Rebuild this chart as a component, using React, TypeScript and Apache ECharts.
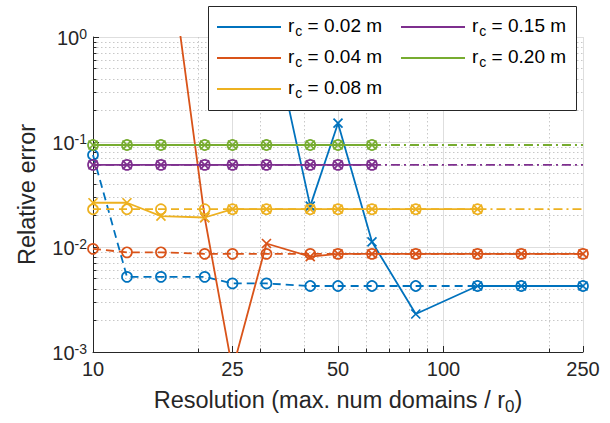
import React, { useEffect, useRef } from "react";
import * as echarts from "echarts";

// Resolution (max. num domains / r0) at which each error was computed
const resolution = [10, 12.5, 15.625, 20.833, 25, 31.25, 41.667, 50, 62.5, 83.333, 125, 166.667, 250];

// Relative errors, solid lines with "x" markers
const solid002 = [null, null, null, null, null, 2.0, 0.0245, 0.151, 0.0112, 0.0023, 0.00425, 0.00425, 0.00425];
const solid004 = [null, null, 25, 0.019, 0.00068, 0.0108, 0.0081, 0.0086, 0.0086, 0.0086, 0.0086, 0.0086, 0.0086];
const solid008 = [0.0264, 0.0264, 0.0197, 0.0191, 0.0229, 0.0229, 0.0229, 0.0229, 0.0229, 0.0229, 0.0229, null, null];
const solid015 = [0.0606, 0.0606, 0.0606, 0.0606, 0.0606, 0.0606, 0.0606, 0.0606, 0.0606, null, null, null, null];
const solid020 = [0.0936, 0.0936, 0.0936, 0.0936, 0.0936, 0.0936, 0.0936, 0.0936, 0.0936, null, null, null, null];

// Relative errors, dashed lines with "o" markers
const dashed002 = [0.0752, 0.0052, 0.0052, 0.0052, 0.0045, 0.0045, 0.00425, 0.00425, 0.00425, 0.00425, 0.00425, 0.00425, 0.00425];
const dashed004 = [0.0096, 0.0089, 0.0089, 0.0086, 0.0086, 0.0086, 0.0086, 0.0086, 0.0086, 0.0086, 0.0086, 0.0086, 0.0086];
const dashed008 = [0.0229, 0.0229, 0.0229, 0.0229, 0.0229, 0.0229, 0.0229, 0.0229, 0.0229, 0.0229, 0.0229, null, null];
const dashed015 = [0.0606, 0.0606, 0.0606, 0.0606, 0.0606, 0.0606, 0.0606, 0.0606, 0.0606, null, null, null, null];
const dashed020 = [0.0936, 0.0936, 0.0936, 0.0936, 0.0936, 0.0936, 0.0936, 0.0936, 0.0936, null, null, null, null];

// Converged values (dash-dot), drawn from the last computed resolution to the end
const convergedValue = [0.00425, 0.0086, 0.0229, 0.0606, 0.0936];
const convergedFrom = [12, 12, 10, 8, 8];

const rcLabels = ["0.02", "0.04", "0.08", "0.15", "0.20"];
const colors = ["#0072BD", "#D95319", "#EDB120", "#7E2F8E", "#77AC30"];

const xMajorTicks = [10, 25, 50, 100, 250];
const xMinorTicks = [20, 30, 40, 60, 70, 80, 90, 200];
const yMajorTicks = [0.001, 0.01, 0.1, 1];
const yMinorTicks = [
  0.002, 0.003, 0.004, 0.005, 0.006, 0.007, 0.008, 0.009,
  0.02, 0.03, 0.04, 0.05, 0.06, 0.07, 0.08, 0.09,
  0.2, 0.3, 0.4, 0.5, 0.6, 0.7, 0.8, 0.9,
];

const FONT = "'Liberation Sans', Arial, Helvetica, sans-serif";
const AX = "#262626";
const CROSS = "path://M0,0L10,10M10,0L0,10";

function pairs(vals: (number | null)[]) {
  return resolution
    .map((x, i) => [x, vals[i]])
    .filter((p) => p[1] !== null && p[1] !== undefined);
}

export default function App() {
  const ref = useRef<HTMLDivElement>(null);

  useEffect(() => {
    if (!ref.current) return;
    const chart = echarts.init(ref.current, undefined, { renderer: "svg" });

    const solids = [solid002, solid004, solid008, solid015, solid020];
    const dashes = [dashed002, dashed004, dashed008, dashed015, dashed020];
    const series: any[] = [];
    rcLabels.forEach((lab, k) => {
      const c = colors[k];
      series.push({
        type: "line",
        name: "o" + lab,
        data: pairs(dashes[k]),
        symbol: "circle",
        symbolSize: 10,
        showAllSymbol: true,
        itemStyle: { color: "none", borderColor: c, borderWidth: 1.7 },
        lineStyle: { color: c, width: 1.8, type: [8, 5] },
        z: 2,
      });
      series.push({
        type: "line",
        name: "rc" + lab,
        data: pairs(solids[k]),
        symbol: CROSS,
        symbolSize: 9,
        showAllSymbol: true,
        itemStyle: { color: "none", borderColor: c, borderWidth: 1.7 },
        lineStyle: { color: c, width: 1.8, type: "solid" },
        z: 2,
      });
      const from = convergedFrom[k];
      if (from < resolution.length - 1) {
        series.push({
          type: "line",
          name: "ref" + lab,
          data: [
            [resolution[from], convergedValue[k]],
            [resolution[resolution.length - 1], convergedValue[k]],
          ],
          symbol: "none",
          lineStyle: { color: c, width: 1.8, type: [9, 4, 2, 4] },
          z: 2,
        });
      }
    });

    const legendRich = {
      r: { fontSize: 19, fontFamily: FONT, color: "#000", verticalAlign: "top", lineHeight: 22 },
      c: { fontSize: 14, fontFamily: FONT, color: "#000", verticalAlign: "bottom", lineHeight: 16, padding: [12, 0, 0, 1] },
      t: { fontSize: 19, fontFamily: FONT, color: "#000", verticalAlign: "top", lineHeight: 22 },
    };
    const legendBase = {
      orient: "vertical",
      top: 12,
      padding: 0,
      itemGap: 5,
      itemWidth: 64,
      itemHeight: 2,
      icon: "rect",
      selectedMode: false,
      z: 5,
      formatter: (name: string) => `{r|r}{c|c}{t| = ${name.slice(2)} m}`,
      textStyle: { rich: legendRich, padding: [0, 0, 0, 2] },
    };
    const legendItem = (k: number) => ({
      name: "rc" + rcLabels[k],
      itemStyle: { color: colors[k], borderWidth: 0 },
    });

    const supRich = {
      b: { fontSize: 20, fontFamily: FONT, color: AX, verticalAlign: "bottom", lineHeight: 21, padding: [7, 0, 0, 0] },
      s: { fontSize: 14, fontFamily: FONT, color: AX, verticalAlign: "top", lineHeight: 15 },
    };

    const option: any = {
      animation: false,
      backgroundColor: "#ffffff",
      grid: { left: 93, right: 27, top: 37, bottom: 71, containLabel: false },
      xAxis: [
        {
          type: "log",
          logBase: 10,
          min: 10,
          max: 250,
          position: "bottom",
          axisLine: { show: true, onZero: false, lineStyle: { color: AX, width: 1 } },
          axisTick: { show: true, inside: true, length: 6, customValues: xMajorTicks, lineStyle: { color: AX } },
          axisLabel: {
            show: true,
            customValues: xMajorTicks,
            formatter: (v: number) => String(Math.round(v)),
            fontSize: 20,
            fontFamily: FONT,
            color: AX,
            margin: 7,
          },
          splitLine: { show: true, lineStyle: { color: "#dedede", width: 1 } },
          name: "{a|Resolution (max. num domains / r}{s|0}{a|)}",
          nameLocation: "middle",
          nameGap: 29,
          nameTextStyle: {
            rich: {
              a: { fontSize: 23.5, fontFamily: FONT, color: AX, verticalAlign: "top", lineHeight: 27 },
              s: { fontSize: 17, fontFamily: FONT, color: AX, verticalAlign: "bottom", lineHeight: 19, padding: [14, 0, 0, 0] },
            },
          },
        },
        {
          type: "log",
          logBase: 10,
          min: 10,
          max: 250,
          position: "bottom",
          axisLine: { show: false, onZero: false },
          axisTick: { show: true, inside: true, length: 3.5, customValues: xMinorTicks, lineStyle: { color: AX } },
          axisLabel: { show: false },
          splitLine: { show: true, lineStyle: { color: "#c8c8c8", width: 1, type: [1.5, 2.5] } },
        },
      ],
      yAxis: [
        {
          type: "log",
          logBase: 10,
          min: 0.001,
          max: 1,
          position: "left",
          axisLine: { show: true, onZero: false, lineStyle: { color: AX, width: 1 } },
          axisTick: { show: true, inside: true, length: 6, customValues: yMajorTicks, lineStyle: { color: AX } },
          axisLabel: {
            show: true,
            customValues: yMajorTicks,
            formatter: (v: number) => `{b|10}{s|${Math.round(Math.log10(v))}}`,
            rich: supRich,
            margin: 6,
          },
          splitLine: { show: true, lineStyle: { color: "#dedede", width: 1 } },
          name: "Relative error",
          nameLocation: "middle",
          nameGap: 54,
          nameRotate: 90,
          nameTextStyle: { fontSize: 23.5, fontFamily: FONT, color: AX },
        },
        {
          type: "log",
          logBase: 10,
          min: 0.001,
          max: 1,
          position: "left",
          axisLine: { show: false, onZero: false },
          axisTick: { show: true, inside: true, length: 3.5, customValues: yMinorTicks, lineStyle: { color: AX } },
          axisLabel: { show: false },
          splitLine: { show: true, lineStyle: { color: "#c8c8c8", width: 1, type: [1.5, 2.5] } },
        },
      ],
      legend: [
        { ...legendBase, left: 217, data: [0, 1, 2].map(legendItem) },
        { ...legendBase, left: 401, data: [3, 4].map(legendItem) },
      ],
      graphic: {
        elements: [
          {
            type: "rect",
            z: 3,
            shape: { x: 208.5, y: 6.5, width: 368, height: 104 },
            style: { fill: "#ffffff", stroke: AX, lineWidth: 1 },
            silent: true,
          },
        ],
      },
      series,
    };

    chart.setOption(option);
    return () => chart.dispose();
  }, []);

  return (
    <div
      ref={ref}
      style={{ position: "fixed", left: 0, top: 0, width: 610, height: 423, background: "#fff" }}
    />
  );
}
